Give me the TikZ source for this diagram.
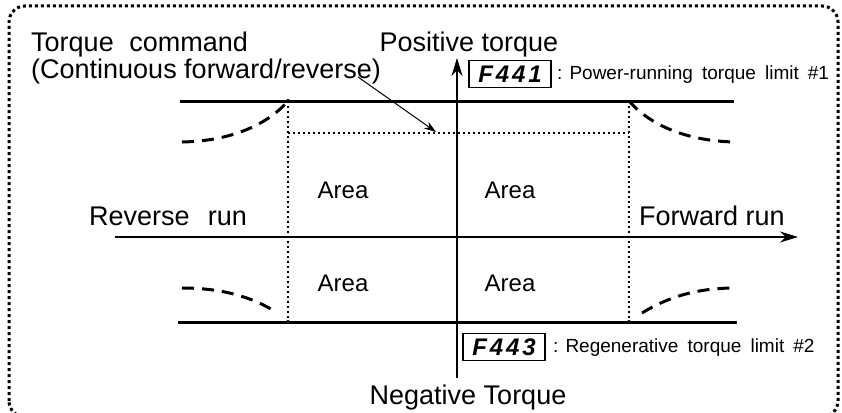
\documentclass[tikz,border=0pt]{standalone}
\usepackage{fontspec}
\setmainfont{Liberation Sans}
\usetikzlibrary{arrows.meta}
\tikzset{
  lbl/.style={inner sep=0pt, font=\fontsize{27}{30}\selectfont},
  arealbl/.style={inner sep=0pt, font=\fontsize{24}{28}\selectfont},
  small/.style={inner sep=0pt, font=\fontsize{19}{22}\selectfont},
  code/.style={draw, line width=1.6pt, inner sep=0pt, minimum width=82pt, minimum height=27pt, font=\fontsize{24}{26}\selectfont\bfseries\itshape\addfontfeatures{LetterSpace=12}},
  limit/.style={line width=3pt},
  curve/.style={line width=3pt, dash pattern=on 12pt off 8pt},
  fine/.style={line width=2.4pt, dash pattern=on 2.4pt off 2.6pt},
  axis/.style={line width=2pt, -{Stealth[length=18pt,width=11pt]}},
  border/.style={line width=3pt, dash pattern=on 3pt off 3pt, rounded corners=16pt}
}
\begin{document}
\begin{tikzpicture}[x=1pt,y=-1pt]
\useasboundingbox (0,0) rectangle (842,412);
\fill[white] (0,0) rectangle (842,412);
% border
\draw[border] (9,417) rectangle (838,6);
% axes
\coordinate (vb) at (457,378);
\coordinate (vt) at (457,58);
\coordinate (hl) at (115,237);
\coordinate (hr) at (798,237);
\draw[axis] (vb) -- (vt);
\draw[axis] (hl) -- (hr);
% limit lines
\coordinate (tl) at (180,101);
\coordinate (tr) at (734,101);
\coordinate (bl) at (178,322);
\coordinate (br) at (737,322);
\coordinate (c1) at (288,101);
\coordinate (c2) at (629,101);
\coordinate (c3) at (288,322);
\coordinate (c4) at (629,322);
\draw[limit] (tl) -- (tr);
\draw[limit] (bl) -- (br);
% dotted area
\coordinate (d1) at (288,133);
\coordinate (d2) at (629,133);
\draw[fine] (c1) -- (c3);
\draw[fine] (c2) -- (c4);
\draw[fine] (d1) -- (d2);
\fill (c1) circle (2pt);
\fill (c3) circle (2pt);
\fill (c4) circle (2pt);
% dashed curves
\draw[curve] (182,142) .. controls (235,141) and (270,122) .. (c1);
\draw[curve] (c2) .. controls (647,122) and (682,141) .. (735,142);
\draw[curve] (182,288) .. controls (222,288) and (252,297) .. (276,312);
\draw[curve] (642,313) .. controls (668,297) and (697,288) .. (735,288);
% texts
\node[lbl, anchor=west] (tc) at (31,45) {Torque\hspace{0.3em} command};
\node[lbl, anchor=west] (cfr) at (31,72) {(Continuous forward/reverse)};
\node[lbl] (pt) at (469,45) {Positive torque};
\node[lbl] (nt) at (468,398) {Negative Torque};
\node[lbl] (rr) at (168,216) {Reverse\hspace{0.4em} run};
\node[lbl] (fr) at (712,216) {Forward run};
\node[arealbl] (a1) at (343,190) {Area};
\node[arealbl] (a2) at (510,190) {Area};
\node[arealbl] (a3) at (343,283) {Area};
\node[arealbl] (a4) at (510,283) {Area};
% code boxes
\node[code] (f1) at (510,74) {F441};
\node[small, anchor=west] (l1) at (557,75) {: Power-running\hspace{0.2em} torque\hspace{0.2em} limit\hspace{0.2em} \#1};
\node[code] (f3) at (504,347) {F443};
\node[small, anchor=west] (l3) at (553,348) {: Regenerative\hspace{0.2em} torque\hspace{0.2em} limit\hspace{0.2em} \#2};
% command arrow
\coordinate (as) at (358,77);
\coordinate (ae) at (436,132);
\draw[line width=1pt, -{Stealth[length=12pt,width=8pt]}] (as) -- (ae);
\end{tikzpicture}
\end{document}
